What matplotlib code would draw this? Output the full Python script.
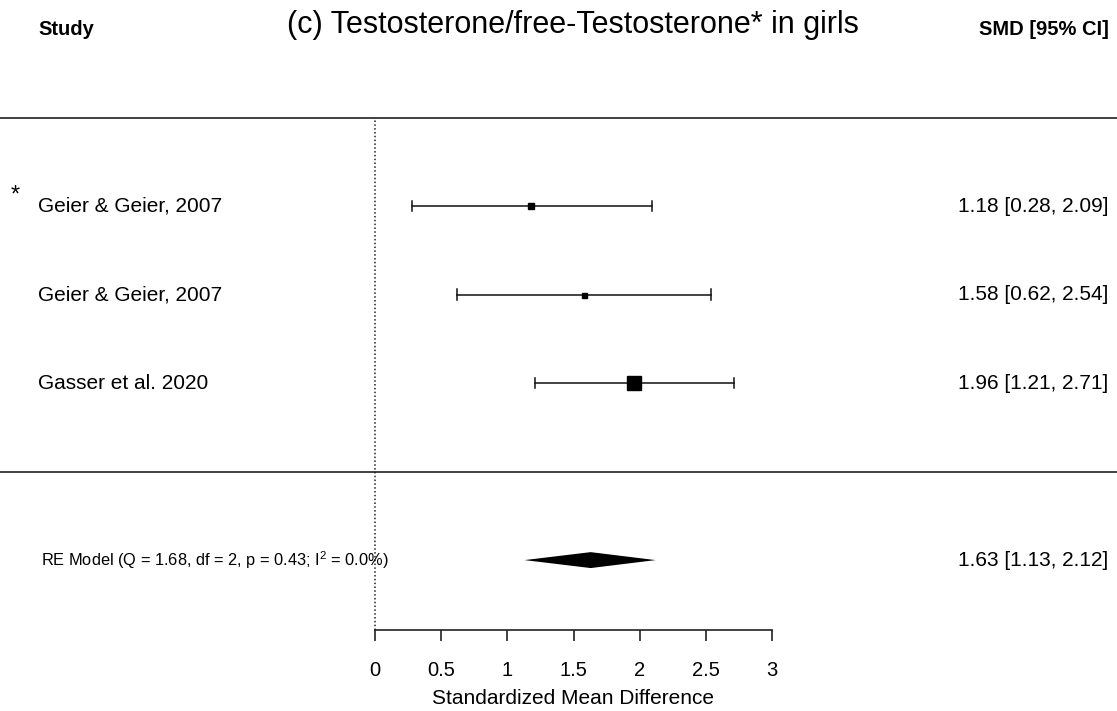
import numpy as np
import matplotlib
matplotlib.use("Agg")
import matplotlib.pyplot as plt

plt.rcParams['font.family'] = ['Liberation Sans', 'DejaVu Sans']
plt.rcParams['mathtext.fontset'] = 'custom'
plt.rcParams['mathtext.rm'] = 'Liberation Sans'
plt.rcParams['mathtext.it'] = 'Liberation Sans'

# Study data
studies = ["Geier & Geier, 2007", "Geier & Geier, 2007", "Gasser et al. 2020"]
smd = [1.18, 1.58, 1.96]
ci_lo = [0.28, 0.62, 1.21]
ci_hi = [2.09, 2.54, 2.71]
flags = ["*", "", ""]
sq_size = [6, 5, 14]   # marker size in px (weights)

# Summary (random effects)
re_est, re_lo, re_hi = 1.63, 1.13, 2.12
re_label = "RE Model (Q = 1.68, df = 2, p = 0.43; I$^2$ = 0.0%)"

xticks = [0, 0.5, 1, 1.5, 2, 2.5, 3]
xticklabels = ["0", "0.5", "1", "1.5", "2", "2.5", "3"]

rows = [3, 2, 1]
re_row = -1.0

W, H = 1117, 711
dpi = 100
fig = plt.figure(figsize=(W / dpi, H / dpi), dpi=dpi)
ax_bottom_px = 630
ax = fig.add_axes([0, 1 - ax_bottom_px / H, 1, ax_bottom_px / H])

px = (772 - 375) / 3.0   # pixels per SMD unit
ax.set_xlim(-375 / px, (W - 375) / px)
ax.set_ylim(-1.79, 5.33)

for s in ['top', 'right', 'left']:
    ax.spines[s].set_visible(False)
ax.spines['bottom'].set_bounds(0, 3)
ax.spines['bottom'].set_linewidth(1.2)
ax.spines['bottom'].set_color('#222222')
ax.set_yticks([])
ax.set_xticks(xticks)
ax.set_xticklabels(xticklabels, fontsize=14.5)
ax.tick_params(axis='x', length=8, width=1.2, color='#222222', pad=14)

# separators and reference line
ax.axhline(4, color='#333333', lw=1.3)
ax.axhline(0, color='#333333', lw=1.3)
ax.plot([0, 0], [-1.79, 4], color='#222222', lw=1.1, ls=(0, (1, 1.5)))

# study CIs
cap = 0.06
for r, m, lo, hi, sz in zip(rows, smd, ci_lo, ci_hi, sq_size):
    ax.plot([lo, hi], [r, r], color='#111111', lw=1.1)
    ax.plot([lo, lo], [r - cap, r + cap], color='#111111', lw=1.1)
    ax.plot([hi, hi], [r - cap, r + cap], color='#111111', lw=1.1)
    ax.plot(m, r, marker='s', ms=sz * 72 / dpi, color='black', mec='black')

# summary diamond
dh = 0.09
ax.fill([re_lo, re_est, re_hi, re_est], [re_row, re_row + dh, re_row, re_row - dh],
        color='black', lw=0)

x_left = (38 - 375) / px
x_right = (1108 - 375) / px
for r, name, fl, m, lo, hi in zip(rows, studies, flags, smd, ci_lo, ci_hi):
    ax.text(x_left, r, name, fontsize=15, ha='left', va='center')
    ax.text(x_right, r, f"{m:.2f} [{lo:.2f}, {hi:.2f}]", fontsize=15,
            ha='right', va='center')
    if fl:
        ax.text((15 - 375) / px, r + 0.12, fl, fontsize=17, ha='center', va='center')

ax.text((41 - 375) / px, re_row, re_label, fontsize=11.8, ha='left', va='center')
ax.text(x_right, re_row, f"{re_est:.2f} [{re_lo:.2f}, {re_hi:.2f}]", fontsize=15,
        ha='right', va='center')

# headers
ax.text(x_left, 4.93, "Study", fontsize=14.5, fontweight='bold', ha='left', va='baseline')
ax.text((1109 - 375) / px, 4.93, "SMD [95% CI]", fontsize=14.5, fontweight='bold',
        ha='right', va='baseline')
ax.text((287 - 375) / px, 4.955, "(c) Testosterone/free-Testosterone* in girls", fontsize=22,
        ha='left', va='baseline')

ax.text(1.5, -69 / ax_bottom_px, "Standardized Mean Difference", fontsize=15,
        ha='center', va='center', transform=ax.get_xaxis_transform())

fig.savefig("out.png", dpi=dpi)
